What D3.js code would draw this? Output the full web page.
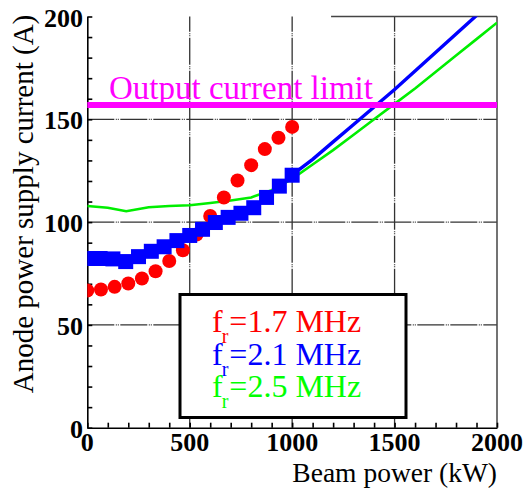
<!DOCTYPE html>
<html>
<head>
<meta charset="utf-8">
<script src="https://cdn.jsdelivr.net/npm/d3@7"></script>
<style>
  body { margin: 0; background: #fff; }
  svg { display: block; }
  text { font-family: 'Liberation Serif', 'Times New Roman', serif; }
</style>
</head>
<body>
<figure style="margin:0"></figure>
<script>
const width = 529
const height = 491
const margin = { left: 87.3, right: 32, top: 16.5, bottom: 63.3 }

// f_r = 1.7 MHz (red circles)
const power17 = [0, 66.7, 133.3, 200, 266.7, 333.3, 400, 466.7, 533.3, 600, 666.7, 733.3, 800, 866.7, 933.3, 1000]
const current17 = [66.7, 67.2, 68.5, 70.1, 72.6, 76.1, 81.1, 86.3, 94, 103, 112, 120.2, 127.7, 135.5, 141, 146.3]

// f_r = 2.1 MHz (blue squares, then line)
const power21 = [0, 62.5, 125, 187.5, 250, 312.5, 375, 437.5, 500, 562.5, 625, 687.5, 750, 812.5, 875, 937.5, 1000]
const current21 = [82.3, 82.3, 82.1, 80.8, 83.2, 85.8, 88, 91, 93.5, 96.5, 99.8, 102.3, 104.3, 107, 112, 117.5, 122.8]
const power21Line = [1000, 1100, 1200, 1300, 1400, 1500, 1600, 1700, 1800, 1900, 2000]
const current21Line = [123, 130.5, 139, 147.5, 156, 164.5, 173.5, 182.5, 191.5, 200.5, 209]

// f_r = 2.5 MHz (green line)
const power25 = [0, 100, 190, 300, 400, 500, 600, 700, 800, 900, 1000, 1100, 1200, 1300, 1400, 1500, 1600, 1700, 1800, 1900, 2000]
const current25 = [107.8, 107, 105.3, 107.2, 107.8, 108.2, 109.3, 110.5, 112, 115.5, 121, 128, 135, 142.5, 150, 157.5, 165, 173, 181, 189, 197]

const currentLimit = 157
const xTicks = [0, 500, 1000, 1500, 2000]
const yTicks = [0, 50, 100, 150, 200]
const xGrid = [500, 1000, 1500]
const yGrid = [50, 100, 150]
const legendLabels = ['=1.7 MHz', '=2.1 MHz', '=2.5 MHz']
const legendColors = ['#ff0000', '#0000ff', '#00ff00']

const x = d3.scaleLinear().domain([0, 2000]).range([margin.left, width - margin.right])
const y = d3.scaleLinear().domain([0, 200]).range([height - margin.bottom, margin.top])

const svg = d3.select('figure').append('svg')
  .attr('width', width)
  .attr('height', height)

svg.append('defs').append('clipPath').attr('id', 'plot')
  .append('rect')
  .attr('x', x(0)).attr('y', y(200))
  .attr('width', x(2000) - x(0)).attr('height', y(0) - y(200))

// grid
const grid = svg.append('g')
  .attr('stroke', '#333')
  .attr('stroke-width', 1.3)
  .attr('stroke-dasharray', '27,1.5,1,1,1,1.5')
grid.selectAll('.gx').data(xGrid).join('line')
  .attr('x1', d => x(d)).attr('x2', d => x(d))
  .attr('y1', y(0)).attr('y2', y(200))
grid.selectAll('.gy').data(yGrid).join('line')
  .attr('x1', x(0)).attr('x2', x(2000))
  .attr('y1', d => y(d)).attr('y2', d => y(d))

// frame: right side and the part of the top that is drawn
svg.append('line')
  .attr('x1', x(2000)).attr('x2', x(2000))
  .attr('y1', y(0)).attr('y2', y(200))
  .attr('stroke', '#444').attr('stroke-width', 1.5)
svg.append('line')
  .attr('x1', x(1190)).attr('x2', x(2000))
  .attr('y1', y(200)).attr('y2', y(200))
  .attr('stroke', '#444').attr('stroke-width', 1.5)

// axes with inward minor ticks
const xAxis = svg.append('g')
  .attr('transform', `translate(0,${y(0)})`)
  .call(d3.axisBottom(x).tickValues(d3.range(0, 2001, 100)).tickSizeInner(-5).tickSizeOuter(0).tickFormat(''))
const yAxis = svg.append('g')
  .attr('transform', `translate(${x(0)},0)`)
  .call(d3.axisLeft(y).tickValues(d3.range(0, 201, 10)).tickSizeInner(-5).tickSizeOuter(0).tickFormat(''))
xAxis.selectAll('path, line').attr('stroke', '#000').attr('stroke-width', 1.6)
yAxis.selectAll('path, line').attr('stroke', '#000').attr('stroke-width', 1.6)

svg.append('g').selectAll('text').data(xTicks).join('text')
  .attr('x', d => x(d)).attr('y', 451)
  .attr('text-anchor', 'middle')
  .attr('font-size', 26).attr('font-weight', 'bold')
  .text(d => d)
svg.append('g').selectAll('text').data(yTicks).join('text')
  .attr('x', 83).attr('y', d => y(d) + 10)
  .attr('text-anchor', 'end')
  .attr('font-size', 26).attr('font-weight', 'bold')
  .text(d => d)

svg.append('text')
  .attr('transform', 'translate(33,204) rotate(-90)')
  .attr('text-anchor', 'middle')
  .attr('font-size', 29)
  .text('Anode power supply current (A)')
svg.append('text')
  .attr('x', 497).attr('y', 482)
  .attr('text-anchor', 'end')
  .attr('font-size', 27.5)
  .text('Beam power (kW)')

// data
const plot = svg.append('g').attr('clip-path', 'url(#plot)')
const line = d3.line().x(d => x(d[0])).y(d => y(d[1]))

plot.append('path')
  .datum(d3.zip(power25, current25))
  .attr('fill', 'none').attr('stroke', '#00ee00').attr('stroke-width', 2.6)
  .attr('d', line)

plot.append('g').selectAll('circle')
  .data(d3.zip(power17, current17))
  .join('circle')
  .attr('cx', d => x(d[0])).attr('cy', d => y(d[1]))
  .attr('r', 7)
  .attr('fill', '#ff0000')

plot.append('path')
  .datum(d3.zip(power21Line, current21Line))
  .attr('fill', 'none').attr('stroke', '#0000ff').attr('stroke-width', 3.4)
  .attr('d', line)

plot.append('g').selectAll('rect')
  .data(d3.zip(power21, current21))
  .join('rect')
  .attr('x', d => x(d[0]) - 7.5).attr('y', d => y(d[1]) - 7.5)
  .attr('width', 15).attr('height', 15)
  .attr('fill', '#0000ff')

// output current limit
svg.append('line')
  .attr('x1', x(0)).attr('x2', x(2000))
  .attr('y1', y(currentLimit)).attr('y2', y(currentLimit))
  .attr('stroke', '#ff00ff').attr('stroke-width', 6)
svg.append('text')
  .attr('x', 109).attr('y', 99)
  .attr('font-size', 33)
  .attr('fill', '#ff00ff')
  .text('Output current limit')

// legend
svg.append('rect')
  .attr('x', 180).attr('y', 294.5)
  .attr('width', 226).attr('height', 123)
  .attr('fill', '#fff').attr('stroke', '#000').attr('stroke-width', 3)

const legend = svg.append('g').selectAll('text')
  .data(legendLabels)
  .join('text')
  .attr('x', 212).attr('y', (d, i) => 332 + i * 32.5)
  .attr('font-size', 32)
  .attr('fill', (d, i) => legendColors[i])
legend.append('tspan').text('f')
legend.append('tspan').attr('font-size', 20).attr('dx', -1).attr('dy', 11).text('r')
legend.append('tspan').attr('dx', 1).attr('dy', -11).text(d => d)
</script>
</body>
</html>
